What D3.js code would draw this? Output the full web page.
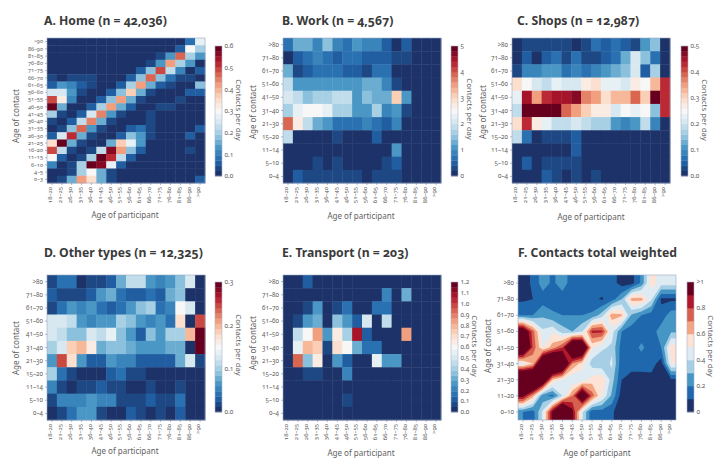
<!DOCTYPE html>
<html>
<head>
<meta charset="utf-8">
<script src="https://cdn.jsdelivr.net/npm/d3@7"></script>
<style>
  html, body { margin: 0; padding: 0; background: #fff; }
  text { font-family: "Noto Sans", "Open Sans", sans-serif; font-variant-numeric: oldstyle-nums; fill: #5f5f5f; }
  .title { font-weight: 700; fill: #3a3a3a; }
</style>
</head>
<body>
<div id="graph"></div>
<script>
  const participant_ages = ["18–20", "21–25", "26–30", "31–35", "36–40", "41–45", "46–50", "51–55", "56–60", "61–65", "66–70", "71–75", "76–80", "81–85", "86–90", ">90"];
  const contact_ages_home = [">90", "86–90", "81–85", "76–80", "71–75", "66–70", "61–65", "56–60", "51–55", "46–50", "41–45", "36–40", "31–35", "26–30", "21–25", "16–20", "11–15", "6–10", "4–5", "0–3"];
  const contact_ages = [">80", "71–80", "61–70", "51–60", "41–50", "31–40", "21–30", "15–20", "11–14", "5–10", "0–4"];
  const contact_ages_total = [">80", "71–80", "61–70", "51–60", "41–50", "31–40", "21–30", "11–20", "0–10"];

  const home_values = [
    [0, 0, 0, 0, 0, 0, 0, 0, 0, 0, 0, 0, 0, 0, .08, .27],
    [0, 0, 0, 0, 0, 0, 0, 0, 0, 0, 0, 0, 0, .06, .31, .21],
    [0, 0, 0, 0, 0, 0, 0, 0, 0, 0, 0, .03, .12, .47, .2, .14],
    [0, 0, 0, 0, 0, 0, 0, 0, 0, 0, .03, .12, .42, .2, .12, .01],
    [0, 0, 0, 0, 0, 0, 0, 0, 0, .07, .17, .5, .22, .1, .01, .06],
    [.04, 0, .03, .03, .03, 0, 0, 0, .07, .18, .46, .17, .09, .03, .03, .01],
    [.07, .13, .11, .07, .03, 0, 0, .05, .2, .41, .15, .06, .03, .01, .01, .18],
    [.24, .24, .14, .03, 0, 0, .06, .18, .38, .15, .03, .01, 0, 0, .06, .06],
    [.5, .33, .11, 0, 0, .05, .17, .41, .15, .03, .01, 0, 0, .03, 0, 0],
    [.58, .15, 0, 0, .05, .2, .42, .16, .05, .02, .01, .03, .03, 0, 0, 0],
    [.2, .03, 0, .06, .24, .45, .14, .03, 0, 0, .03, 0, 0, 0, 0, 0],
    [.03, .01, .05, .22, .44, .15, .03, 0, 0, .02, .03, 0, 0, 0, 0, 0],
    [0, .03, .19, .46, .13, .03, 0, 0, .06, .09, .03, 0, 0, 0, 0, .06],
    [.06, .24, .52, .15, .03, 0, 0, .07, .17, .12, .03, 0, 0, 0, .06, 0],
    [.35, .58, .15, .04, 0, 0, .15, .36, .27, .12, 0, 0, 0, 0, 0, 0],
    [.48, .22, .03, .01, .03, .22, .57, .42, .18, .06, 0, 0, 0, 0, .03, 0],
    [.31, .07, .01, .03, .2, .6, .52, .22, .06, 0, 0, 0, 0, 0, 0, 0],
    [.1, .01, .03, .2, .6, .56, .27, .06, 0, 0, 0, 0, 0, 0, 0, 0],
    [0, 0, .03, .2, .29, .16, .03, 0, 0, 0, 0, 0, 0, 0, 0, 0],
    [.01, .04, .15, .41, .35, .15, .03, 0, 0, 0, 0, 0, 0, 0, 0, .07]
  ];
  const work_values = [
    [.6, 1.4, 1.2, .8, 1.5, .8, .6, 1.1, .8, .8, .4, .1, .4, 0, 0, 0],
    [.15, .55, .6, .8, .6, .4, .6, .6, .4, .4, .4, .2, .3, .03, .03, .03],
    [1.2, .35, .5, .6, .6, .6, .4, .4, .35, .7, .7, .05, .1, .03, .03, .03],
    [1.9, 1.05, 1.05, 1, 1.1, 1.1, 1.1, 1.1, 1.2, 1.3, .9, .2, .05, 0, .02, 0],
    [2, 1.9, 1.5, 1.7, 1.6, 1.8, 1.8, 1, 1.5, 1.4, 1.2, 3.1, 1.1, .1, .03, .03],
    [1.6, 2.2, 2.4, 2.4, 2.2, 1.7, 1.6, 1.1, 1, 1.6, .8, 1, .3, .03, .03, .03],
    [3.8, 2.7, 1.8, 1.4, 1.1, .75, .7, .6, .9, .75, .5, .95, .03, .03, .03, .03],
    [1.9, .15, .03, .05, .05, .2, .03, .15, .03, .45, .03, .03, .05, .02, .05, 0],
    [0, 0, .02, .02, .04, .03, .05, .02, .02, .15, .02, 1, .03, 0, 0, 0],
    [.02, .15, .15, .2, .05, .2, .15, .15, .12, .05, .2, .55, .03, .03, .03, .03],
    [.03, .45, .25, .3, .25, .35, .2, .2, .15, .2, .3, .3, .03, .03, .04, .03]
  ];
  const shops_values = [
    [.01, .02, .02, .02, .02, .02, .01, .02, .06, .04, .07, .04, .03, .11, .14, .01],
    [.01, .05, .01, .04, .06, .03, .06, .03, .03, .05, .07, .13, .2, .15, .06, .01],
    [.03, .08, .08, .11, .11, .07, .09, .07, .08, .1, .12, .15, .21, .05, .17, .01],
    [.28, .24, .2, .18, .22, .2, .2, .26, .28, .22, .22, .2, .27, .25, .33, .42],
    [.22, .45, .34, .42, .44, .44, .47, .36, .34, .28, .33, .33, .39, .3, .5, .42],
    [.18, .48, .49, .5, .5, .38, .34, .31, .26, .26, .21, .24, .22, .24, .15, .42],
    [.28, .43, .27, .23, .19, .19, .2, .18, .16, .16, .11, .08, .11, .18, .08, .01],
    [.19, .06, .01, .03, .02, .02, .04, .01, .01, .01, .01, .01, .01, .01, .01, .01],
    [0, 0, 0, .01, .01, .01, .04, .005, .005, 0, 0, 0, 0, 0, 0, .01],
    [0, .04, .01, .03, .03, .03, .02, .01, .01, 0, .01, 0, 0, 0, 0, 0],
    [.01, .01, .01, .05, .02, 0, .03, 0, .02, 0, 0, 0, 0, 0, 0, 0]
  ];
  const other_values = [
    [.02, .04, .04, .01, .02, .02, .03, .08, .11, .11, .07, .05, .06, .09, .12, .01],
    [.03, .02, .015, .015, .03, .06, .075, .04, .03, .025, .04, .035, .08, .085, .01, .01],
    [.015, .045, .06, .055, .065, .045, .025, .04, .06, .085, .105, .045, .05, .145, .125, .01],
    [.12, .13, .11, .07, .05, .06, .07, .105, .09, .07, .055, .06, .04, .17, .005, .24],
    [.125, .115, .085, .09, .13, .115, .135, .085, .065, .03, .095, .07, .105, .105, .2, .3],
    [.1, .125, .18, .2, .16, .08, .09, .09, .08, .07, .07, .065, .08, .08, .01, .3],
    [.07, .24, .17, .06, .03, .03, .06, .05, .055, .03, .035, .03, .03, .075, .12, .015],
    [.105, .04, .02, .01, .01, .005, .025, .045, .015, .015, .005, .01, .01, .005, .01, .01],
    [.05, .015, .005, .02, .015, .03, .02, .02, .01, .01, .02, .01, .01, .02, .01, .01],
    [.02, .055, .05, .05, .06, .05, .05, .015, .02, .02, .035, .015, .02, .045, .01, .01],
    [.01, .015, .045, .06, .06, .015, .01, .01, .03, .015, .005, .02, .01, .03, .01, .01]
  ];
  const transport_values = [
    [.01, .01, .1, .03, .01, .02, .01, .01, .01, .01, .01, .01, .03, .01, .01, .01],
    [.01, .01, .01, .03, .01, .01, .01, .01, .01, .03, .2, .01, .32, .01, .01, .01],
    [.01, .01, .05, .25, .01, .05, .17, .01, .01, .18, .15, .01, .02, .01, .01, .01],
    [.01, .08, .25, .33, .01, .35, .27, .14, .48, .01, .44, .01, .01, .01, .01, .01],
    [.01, .44, .58, .82, .26, .63, .4, 1.1, .12, .01, .01, .01, .82, .01, .01, .01],
    [.01, .55, .78, .74, .06, .7, .62, .33, .17, .18, .01, .01, .01, .01, .01, .01],
    [.01, .95, .35, .67, .01, .24, .13, .03, .01, .53, .25, .24, .02, .01, .01, .01],
    [.01, .01, .05, .08, .01, .01, .2, .01, .01, .01, .01, .01, .01, .01, .01, .01],
    [.01, .01, .01, .01, .01, .01, .01, .01, .01, .01, .01, .01, .01, .01, .01, .01],
    [.01, .01, .01, .01, .01, .01, .06, .01, .01, .01, .01, .01, .01, .01, .01, .01],
    [.01, .01, .02, .01, .01, .01, .01, .01, .01, .01, .01, .01, .01, .01, .01, .01]
  ];
  // ridge values run past the top of the colour bar, which is open ended (>1)
  const total_values = [
    [.05, .12, .25, .18, .25, .15, .15, .15, .15, .15, .05, .06, .22, .55, .45, .45],
    [.08, .1, .15, .15, .15, .15, .13, .12, .09, .15, .3, .64, .64, .42, .08, .08],
    [.2, .2, .28, .22, .2, .2, .2, .22, .35, .66, .62, .28, .2, .15, .14, .25],
    [1.1, .75, .42, .48, .35, .3, .4, .83, .83, .45, .2, .15, .15, .15, .25, .28],
    [1.3, .78, .5, .65, .8, 1.4, 1.3, .52, .42, .38, .15, .15, .22, .15, .2, .55],
    [.45, .6, 1.3, 1.5, 1.3, .7, .55, .35, .32, .42, .13, .15, .15, .15, .05, .5],
    [1.5, 1.5, 1.2, .6, .48, .4, .42, .55, .58, .35, .1, .05, .05, .06, .06, .08],
    [.95, .65, .22, .17, .4, .7, 1.2, .75, .5, .28, .05, .02, .02, .02, .02, .02],
    [.2, .15, .42, .95, 1.5, .95, .42, .12, .15, .12, .02, .02, .02, .02, .02, .02]
  ];

  const home_ticks = [0, .1, .2, .3, .4, .5, .6];
  const work_ticks = [0, 1, 2, 3, 4, 5];
  const shops_ticks = [0, .1, .2, .3, .4, .5];
  const other_ticks = [0, .1, .2, .3];
  const transport_ticks = [0, .1, .2, .3, .4, .5, .6, .7, .8, .9, 1, 1.1, 1.2];
  const total_ticks = [0, .2, .4, .6, .8, 1];
  const total_levels = [.1, .2, .3, .4, .5, .6, .7, .8, .9];
  const total_colors = ["#1c3268", "#2068ae", "#4596c5", "#a6cfe5", "#deebf3", "#fde3d6", "#f4a582", "#d6604d", "#b2182b", "#67001f"];

  const width = 725;
  const height = 466;

  const panels = [
    {title: "A. Home (n = 42,036)", values: home_values, rows: contact_ages_home, ticks: home_ticks, fmt: ".1f", x: 47, y: 38, tx: 44, ty: 25, bx: 215, by: 46, ylab: 19, ylabc: 116, cbt: 236, cbc: 110, xlab: 125, xlaby: 218},
    {title: "B. Work (n = 4,567)", values: work_values, rows: contact_ages, ticks: work_ticks, fmt: "d", x: 283, y: 38, tx: 282, ty: 25, bx: 451, by: 46, ylab: 256, ylabc: 112, cbt: 467, cbc: 109, xlab: 361, xlaby: 219},
    {title: "C. Shops (n = 12,987)", values: shops_values, rows: contact_ages, ticks: shops_ticks, fmt: ".1f", x: 512, y: 38, tx: 517, ty: 25, bx: 681, by: 46, ylab: 485.5, ylabc: 112, cbt: 702, cbc: 110, xlab: 591, xlaby: 220},
    {title: "D. Other types (n = 12,325)", values: other_values, rows: contact_ages, ticks: other_ticks, fmt: ".1f", x: 47, y: 275, tx: 44, ty: 257, bx: 215, by: 282, ylab: 19, ylabc: 348, cbt: 236, cbc: 345, xlab: 125, xlaby: 454},
    {title: "E. Transport (n = 203)", values: transport_values, rows: contact_ages, ticks: transport_ticks, fmt: ".1f", x: 283, y: 275, tx: 282, ty: 257, bx: 451, by: 282, ylab: 256, ylabc: 343, cbt: 472, cbc: 346, xlab: 361, xlaby: 456},
    {title: "F. Contacts total weighted", values: total_values, rows: contact_ages_total, ticks: total_ticks, contour: true, x: 518, y: 275, tx: 518, ty: 257, bx: 687, by: 282, ylab: 491, ylabc: 346, cbt: 708, cbc: 346, xlab: 597, xlaby: 456}
  ];

  const plot_w = 158;
  const plot_h = 145;
  const bar_w = 7;
  const bar_h = 130;
  const bins = 25;

  // RdBu, but with the paper's navy at the low end
  const ramp = d3.scaleLinear()
    .domain([0, .1, .2, .3, .4, .5, .6, .7, .8, .9, 1])
    .range(["#1c3268", "#2166ac", "#4393c3", "#92c5de", "#d1e5f0", "#f7f7f7", "#fddbc7", "#f4a582", "#d6604d", "#b2182b", "#67001f"])
    .clamp(true);
  const binned = t => ramp(Math.min(Math.floor(t * bins), bins - 1) / (bins - 1));

  let svg = d3.select("#graph").append("svg")
    .attr("width", width)
    .attr("height", height)
    .style("display", "block");

  function draw_cells(g, p, x, y, max) {
    p.values.forEach(function(row, r) {
      g.append("g").selectAll("rect")
        .data(row)
        .join("rect")
        .attr("x", (d, c) => x(participant_ages[c]))
        .attr("y", y(p.rows[r]))
        .attr("width", x.bandwidth() + .4)
        .attr("height", y.bandwidth() + .4)
        .attr("fill", d => binned(d / max));
    });
  }

  function draw_contours(g, p, i) {
    const nr = p.values.length;
    const nc = participant_ages.length;
    // repeat the outer rows and columns so the fill reaches the plot edge
    const grid = [];
    d3.range(-1, nr + 1).forEach(function(r) {
      d3.range(-1, nc + 1).forEach(function(c) {
        grid.push(p.values[Math.max(0, Math.min(nr - 1, r))][Math.max(0, Math.min(nc - 1, c))]);
      });
    });
    const gx = d3.scaleLinear().domain([1, nc + 1]).range([0, plot_w]);
    const gy = d3.scaleLinear().domain([1, nr + 1]).range([0, plot_h]);
    const path = d3.geoPath(d3.geoTransform({
      point: function(a, b) { this.stream.point(gx(a), gy(b)); }
    }));
    const shapes = d3.contours().size([nc + 2, nr + 2]).thresholds(total_levels)(grid);
    svg.append("clipPath").attr("id", "clip" + i)
      .append("rect").attr("width", plot_w).attr("height", plot_h);
    const inner = g.append("g").attr("clip-path", `url(#clip${i})`);
    inner.append("rect").attr("width", plot_w).attr("height", plot_h).attr("fill", total_colors[0]);
    inner.selectAll("path")
      .data(shapes)
      .join("path")
      .attr("d", path)
      .attr("fill", (d, k) => total_colors[k + 1]);
  }

  function draw_bar(p) {
    const max = p.ticks[p.ticks.length - 1];
    const c = svg.append("g").attr("transform", `translate(${p.bx},${p.by})`);
    const bar_y = d3.scaleLinear().domain([0, max]).range([bar_h, 0]);
    if (p.contour) {
      c.selectAll("rect")
        .data(total_colors)
        .join("rect")
        .attr("y", (d, k) => bar_y((k + 1) / 10))
        .attr("width", bar_w)
        .attr("height", bar_h / 10 + .3)
        .attr("fill", d => d);
    } else {
      c.selectAll("rect")
        .data(d3.range(bins))
        .join("rect")
        .attr("y", d => bar_h * (1 - (d + 1) / bins))
        .attr("width", bar_w)
        .attr("height", bar_h / bins + .3)
        .attr("fill", d => binned((d + .5) / bins));
    }
    c.append("rect")
      .attr("width", bar_w).attr("height", bar_h)
      .attr("fill", "none").attr("stroke", "#aab4c8").attr("stroke-width", .6);
    c.selectAll("text")
      .data(p.ticks)
      .join("text")
      .attr("x", bar_w + 2.5)
      .attr("y", d => bar_y(d) + 2.2)
      .style("font-size", "6.5px")
      .text(d => p.contour ? (d === 1 ? ">1" : d3.format("")(d)) : d3.format(p.fmt)(d));
    svg.append("text")
      .attr("transform", `translate(${p.cbt},${p.cbc}) rotate(90)`)
      .style("text-anchor", "middle")
      .style("font-size", "7.8px")
      .text("Contacts per day");
  }

  panels.forEach(function(p, i) {
    const max = p.ticks[p.ticks.length - 1];
    const g = svg.append("g").attr("transform", `translate(${p.x},${p.y})`);
    const x = d3.scaleBand().domain(participant_ages).range([0, plot_w]);
    const y = d3.scaleBand().domain(p.rows).range([0, plot_h]);

    if (p.contour) draw_contours(g, p, i);
    else draw_cells(g, p, x, y, max);

    g.append("rect")
      .attr("width", plot_w).attr("height", plot_h)
      .attr("fill", "none").attr("stroke", "#9aa9c4").attr("stroke-width", .6);

    const x_axis = g.append("g")
      .attr("transform", `translate(0,${plot_h})`)
      .call(d3.axisBottom(x).tickSize(2).tickPadding(2));
    x_axis.selectAll("text")
      .attr("transform", "rotate(-90)")
      .attr("x", -4).attr("y", -1.5)
      .attr("dy", "0.32em")
      .style("text-anchor", "end")
      .style("font-size", "6px");
    const y_axis = g.append("g")
      .call(d3.axisLeft(y).tickSize(2).tickPadding(2));
    y_axis.selectAll("text")
      .style("font-size", p.rows.length > 11 ? "5.6px" : "6.3px");
    g.selectAll(".domain").remove();
    g.selectAll(".tick line").attr("stroke", "#777").attr("stroke-width", .5);
    g.selectAll(".tick text").attr("fill", null);

    svg.append("text")
      .attr("class", "title")
      .attr("x", p.tx)
      .attr("y", p.ty)
      .style("font-size", "12.2px")
      .text(p.title);
    svg.append("text")
      .attr("x", p.xlab)
      .attr("y", p.xlaby)
      .style("text-anchor", "middle")
      .style("font-size", "8px")
      .text("Age of participant");
    svg.append("text")
      .attr("transform", `translate(${p.ylab},${p.ylabc}) rotate(-90)`)
      .style("text-anchor", "middle")
      .style("font-size", "8px")
      .text("Age of contact");

    draw_bar(p);
  });
</script>
</body>
</html>
